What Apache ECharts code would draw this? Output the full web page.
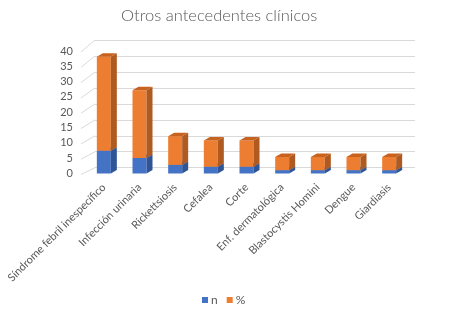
<!DOCTYPE html>
<html>
<head>
<meta charset="utf-8">
<script src="https://cdn.jsdelivr.net/npm/echarts@6/dist/echarts.min.js"></script>
<style>
  html, body { margin: 0; padding: 0; background: #fff; }
  #chart { width: 457px; height: 317px; }
</style>
</head>
<body>
<div id="chart"></div>
<script>
// datos
const categories = [
  'Síndrome febril inespecífico', 'Infección urinaria', 'Rickettsiosis', 'Cefalea',
  'Corte', 'Enf. dermatológica', 'Blastocystis Homini', 'Dengue', 'Giardiasis'
];
const nValues = [7.4, 5.1, 2.8, 2.2, 2.2, 1.1, 1.1, 1.1, 1.1];
const pctValues = [30.7, 22.1, 9.4, 8.6, 8.6, 4.3, 4.3, 4.3, 4.3];
const yTicks = [0, 5, 10, 15, 20, 25, 30, 35, 40];

const FONT = 'Lato, "Liberation Sans Narrow", sans-serif';
const TEXT = '#595959';
const GRID_LINE = '#d9d9d9';

const chart = echarts.init(document.getElementById('chart'));

// caras de la barra 3D: frente, lateral, tapa
function bar3d(colors) {
  return function (params, api) {
    const idx = api.value(0);
    const p0 = api.coord([idx, api.value(1)]);
    const p1 = api.coord([idx, api.value(2)]);
    const w = 14, dx = 6, dy = 3.5;
    const l = p0[0] - w / 2, r = l + w;
    return {
      type: 'group',
      children: [
        { type: 'rect', shape: { x: l, y: p1[1], width: w, height: p0[1] - p1[1] }, style: { fill: colors.front } },
        { type: 'polygon', shape: { points: [[r, p0[1]], [r, p1[1]], [r + dx, p1[1] - dy], [r + dx, p0[1] - dy]] }, style: { fill: colors.side } },
        { type: 'polygon', shape: { points: [[l, p1[1]], [r, p1[1]], [r + dx, p1[1] - dy], [l + dx, p1[1] - dy]] }, style: { fill: colors.top } }
      ]
    };
  };
}

const nData = categories.map((c, i) => [i, 0, nValues[i]]);
const pctData = categories.map((c, i) => [i, nValues[i], nValues[i] + pctValues[i]]);

chart.setOption({
  animation: false,
  title: {
    text: 'Otros antecedentes clínicos',
    left: 116, top: 2,
    textStyle: { fontFamily: FONT, fontSize: 16.5, fontWeight: 300, color: TEXT }
  },
  legend: {
    data: ['n', '%'],
    left: 197, bottom: 6,
    itemWidth: 6, itemHeight: 6, itemGap: 9,
    icon: 'rect',
    textStyle: { fontFamily: FONT, fontSize: 12, color: TEXT, padding: [0, 0, 0, -2] }
  },
  grid: [
    { left: 86, top: 51, width: 321, height: 122.5 },
    { left: 95, top: 40, width: 320, height: 127.7 }
  ],
  xAxis: [
    {
      type: 'category', gridIndex: 0, data: categories,
      axisLine: { show: false }, axisTick: { show: false },
      axisLabel: { rotate: 45, interval: 0, margin: 12, fontFamily: FONT, fontSize: 11, color: TEXT }
    },
    { type: 'value', gridIndex: 1, min: 0, max: 1, show: false }
  ],
  yAxis: [
    {
      type: 'value', gridIndex: 0, min: 0, max: 40, interval: 5,
      axisLine: { show: false }, axisTick: { show: false }, splitLine: { show: false },
      axisLabel: { margin: 13, fontFamily: FONT, fontSize: 11, color: TEXT }
    },
    {
      type: 'value', gridIndex: 1, min: 0, max: 40, interval: 5,
      axisLine: { show: false }, axisTick: { show: false }, axisLabel: { show: false },
      splitLine: { lineStyle: { color: GRID_LINE, width: 1 } }
    }
  ],
  series: [
    {
      name: 'n', type: 'custom', xAxisIndex: 0, yAxisIndex: 0,
      itemStyle: { color: '#4472C4' },
      renderItem: bar3d({ front: '#4472C4', side: '#2F5597', top: '#3A62AA' }),
      encode: { x: 0, y: [1, 2] },
      data: nData
    },
    {
      name: '%', type: 'custom', xAxisIndex: 0, yAxisIndex: 0,
      itemStyle: { color: '#ED7D31' },
      renderItem: bar3d({ front: '#ED7D31', side: '#AE5A21', top: '#C8621F' }),
      encode: { x: 0, y: [1, 2] },
      data: pctData
    }
  ]
});

// líneas de la pared lateral: del borde frontal a la pared del fondo
const sideLines = yTicks.map(v => {
  const yf = chart.convertToPixel({ yAxisIndex: 0 }, v);
  const yb = chart.convertToPixel({ yAxisIndex: 1 }, v);
  return {
    type: 'line', silent: true, z: -1,
    shape: { x1: 81, y1: yf + 1, x2: 95, y2: yb },
    style: { stroke: GRID_LINE, lineWidth: 1 }
  };
});
chart.setOption({ graphic: sideLines });
</script>
</body>
</html>
